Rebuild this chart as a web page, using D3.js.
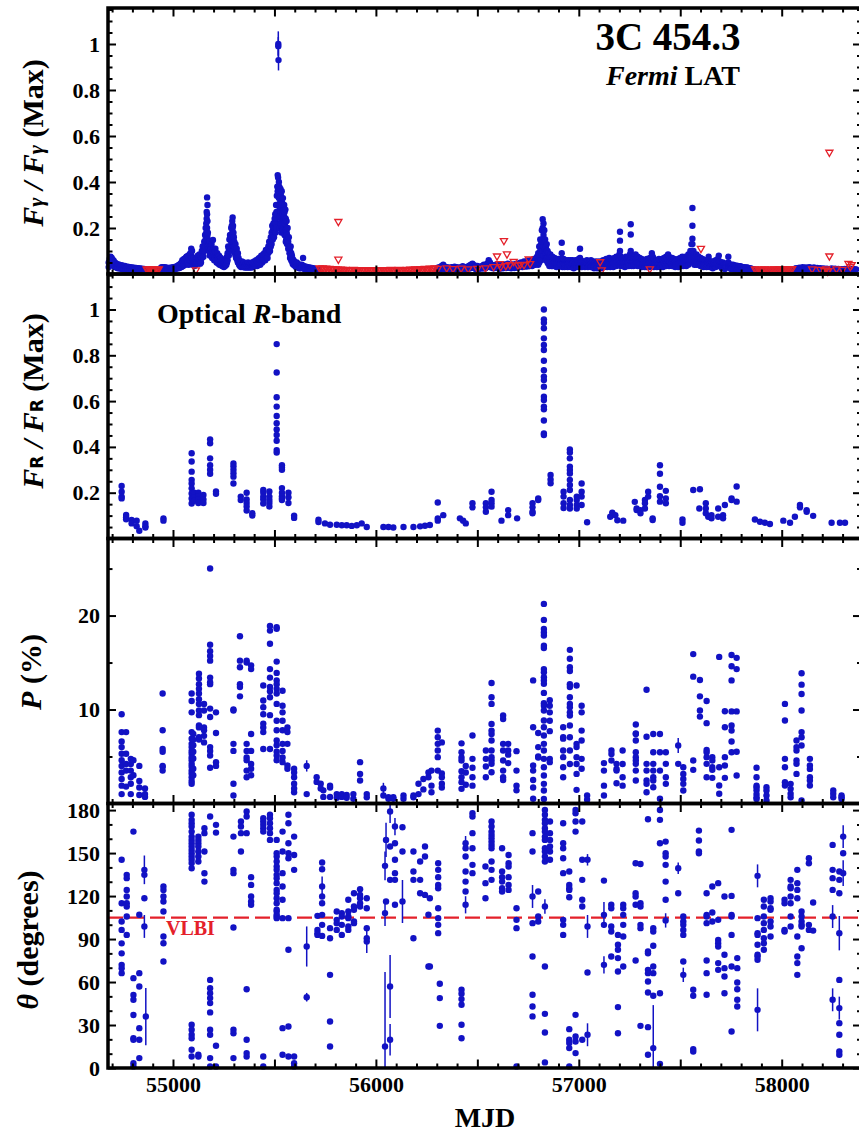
<!DOCTYPE html>
<html>
<head>
<meta charset="utf-8">
<script src="https://cdn.jsdelivr.net/npm/d3@7"></script>
<style>
  body { margin: 0; background: #fff; }
  svg text { font-family: "Liberation Serif", "Times New Roman", serif; font-weight: bold; }
</style>
</head>
<body>
<svg id="chart" width="859" height="1132"></svg>
<script>
// ---- data (MJD, values) ----
// gamma-ray detections, grouped by date: [mjd, [flux / max, ...]]
const gammaDet = [
  [54683,[.05,.03]],[54688,[.065,.04]],[54693,[.075,.05]],[54698,[.07,.045]],[54703,[.062,.04]],[54708,[.058,.035]],
  [54713,[.05,.03]],[54718,[.047,.03]],[54723,[.043,.028]],[54728,[.04,.025]],[54733,[.042]],[54738,[.037,.024]],
  [54743,[.035]],[54748,[.038,.022]],[54753,[.034]],[54758,[.032,.02]],[54763,[.035]],[54768,[.031,.02]],[54773,[.03]],
  [54778,[.032,.02]],[54783,[.029]],[54788,[.03,.019]],[54793,[.027]],[54798,[.028,.018]],[54803,[.026]],[54808,[.027,.018]],
  [54813,[.025]],[54818,[.026,.017]],[54823,[.024]],[54828,[.025,.017]],[54833,[.023]],[54838,[.024,.016]],[54843,[.022]],
  [54848,[.023]],[54853,[.021]],[54858,[.022]],[54863,[.02]],
  [54937,[.022]],[54942,[.028,.018]],[54947,[.03]],[54952,[.027,.02]],[54957,[.03]],[54962,[.028,.02]],[54967,[.026]],
  [54972,[.027,.019]],[54977,[.024]],[54982,[.026,.018]],[54987,[.025]],[54992,[.028,.02]],[54997,[.026]],[55002,[.03,.02]],
  [55007,[.028]],[55012,[.032,.022]],[55017,[.03]],[55022,[.035,.024]],[55027,[.038]],[55032,[.04,.026]],[55037,[.045]],
  [55042,[.05,.03]],[55046,[.04,.06]],[55050,[.055,.035]],[55054,[.065,.04]],[55058,[.06,.045]],[55062,[.07,.04]],
  [55066,[.075,.05]],[55070,[.065,.045]],[55074,[.08,.05]],[55078,[.07,.04]],[55082,[.085,.06]],[55086,[.09,.06]],
  [55090,[.11,.08,.06]],[55094,[.1,.07]],[55098,[.06,.04]],[55102,[.07,.05]],[55106,[.05,.035]],[55110,[.06,.04]],
  [55114,[.045]],[55118,[.07,.05]],[55122,[.08,.055]],[55126,[.065,.045]],[55130,[.085,.06]],[55134,[.06,.045]],
  [55138,[.075,.05]],[55142,[.1,.07]],[55146,[.12,.08]],[55150,[.1,.075]],[55154,[.14,.1]],[55158,[.17,.12]],
  [55161,[.2,.15]],[55164,[.22,.18]],[55166,[.27,.24]],[55168,[.333,.26,.2]],[55170,[.3,.23,.17]],[55172,[.18,.15,.12]],
  [55175,[.14,.11]],[55178,[.13,.1]],[55181,[.14,.1,.08]],[55184,[.12,.09]],[55187,[.11,.08]],[55190,[.13,.09]],
  [55193,[.1,.07]],[55197,[.148,.09]],[55200,[.11,.08]],[55203,[.09,.06]],[55206,[.1,.07]],[55209,[.11,.08]],
  [55212,[.09,.06]],[55215,[.08,.05]],[55218,[.09,.06]],[55221,[.08,.05]],[55224,[.07,.045]],[55227,[.08,.05]],
  [55230,[.065,.04]],[55233,[.06,.04]],[55236,[.07,.045]],[55239,[.06,.04]],[55242,[.05,.035]],[55245,[.06,.04]],
  [55248,[.05,.035]],[55251,[.045,.03]],[55254,[.055,.035]],[55257,[.05,.035]],[55260,[.065,.04]],[55263,[.06,.04]],
  [55266,[.075,.05]],[55269,[.09,.06]],[55272,[.12,.08]],[55275,[.11,.08]],[55278,[.15,.1]],[55281,[.17,.12]],
  [55284,[.16,.11]],[55287,[.2,.14]],[55290,[.21,.16]],[55292,[.23,.18,.13]],[55294,[.246,.2,.15]],[55296,[.21,.17,.12]],
  [55298,[.18,.14,.1]],[55300,[.16,.12]],[55302,[.14,.1]],[55305,[.12,.09]],[55308,[.13,.08]],[55311,[.1,.07]],
  [55314,[.11,.07]],[55317,[.08,.06]],[55320,[.09,.05]],[55323,[.07,.05]],[55326,[.06,.04]],[55330,[.055,.035]],
  [55335,[.05,.03]],[55340,[.055,.035]],[55345,[.045,.03]],[55350,[.05,.03]],[55355,[.04,.028]],[55360,[.045,.03]],
  [55365,[.04,.028]],[55370,[.05,.03]],[55375,[.04,.028]],[55380,[.045,.03]],[55385,[.04,.028]],[55390,[.05,.03]],
  [55395,[.045,.03]],[55400,[.055,.035]],[55405,[.05,.035]],[55410,[.06,.04]],[55415,[.055,.035]],[55420,[.065,.04]],
  [55425,[.07,.045]],[55430,[.06,.04]],[55435,[.08,.05]],[55440,[.07,.05]],[55445,[.085,.06]],[55450,[.09,.06]],
  [55455,[.08,.06]],[55458,[.105]],[55462,[.1,.07]],[55466,[.09,.07]],[55470,[.12,.09]],[55474,[.14,.1]],
  [55478,[.13,.1]],[55482,[.16,.12]],[55486,[.18,.13]],[55489,[.21,.16]],[55492,[.19,.15]],[55495,[.22,.17]],
  [55498,[.2,.16]],[55501,[.24,.19]],[55504,[.26,.2]],[55506,[.22,.18]],[55508,[.3,.24]],[55510,[.27,.2]],
  [55512,[.34,.26]],[55514,[.38,.3]],[55516,[.43,.36]],[55518,[.42,.35]],[55522,[.4,.33]],[55524,[.38,.3,.25]],
  [55526,[.36,.28,.2]],[55528,[.31,.25]],[55530,[.37,.3,.22]],[55532,[.34,.27]],[55534,[.29,.23,.18]],[55536,[.36,.3]],
  [55538,[.31,.25,.2]],[55540,[.27,.22]],[55542,[.33,.26,.19]],[55544,[.28,.23]],[55546,[.24,.18]],[55548,[.3,.25]],
  [55550,[.27,.22,.17]],[55552,[.22,.17]],[55554,[.28,.23]],[55556,[.24,.19,.14]],[55558,[.19,.15]],[55560,[.23,.18]],
  [55562,[.17,.13]],[55565,[.2,.15]],[55568,[.14,.11]],[55571,[.16,.12]],[55574,[.12,.09]],[55577,[.1,.07]],
  [55580,[.12,.08]],[55583,[.09,.06]],[55586,[.08,.055]],[55590,[.065,.045]],[55594,[.06,.04]],[55598,[.055,.04]],
  [55602,[.05,.035]],[55606,[.045,.03]],[55610,[.05,.035]],[55614,[.045,.03]],[55618,[.04,.028]],[55622,[.035,.025]],
  [55626,[.04,.028]],[55630,[.035,.025]],[55635,[.04,.028]],[55641,[.07]],[55645,[.035,.025]],[55650,[.03,.02]],
  [55656,[.032,.022]],[55662,[.028,.02]],[55668,[.03,.02]],[55674,[.025,.018]],[55680,[.027,.018]],[55686,[.024]],
  [55692,[.025]],[55698,[.022]],[55704,[.022]],[55710,[.02]],[55716,[.02]],
  [56300,[.025,.018]],[56308,[.028,.02]],[56316,[.03,.02]],[56324,[.035,.022]],[56332,[.04,.025]],[56340,[.032,.022]],
  [56348,[.03,.02]],[56356,[.028]],[56364,[.025]],[56372,[.03,.02]],[56380,[.028]],[56388,[.032,.022]],[56396,[.03]],
  [56404,[.028,.02]],[56412,[.026]],[56420,[.03,.02]],[56428,[.034,.024]],[56436,[.03]],[56444,[.028,.02]],[56452,[.032]],
  [56460,[.036,.024]],[56468,[.04,.026]],[56476,[.045,.03]],[56484,[.038,.026]],[56492,[.032,.022]],[56500,[.035,.024]],
  [56508,[.03,.022]],[56516,[.032]],[56524,[.035,.024]],[56532,[.04,.026]],[56540,[.038,.025]],[56548,[.045,.03]],
  [56556,[.06,.04]],[56562,[.05,.03]],[56570,[.04,.028]],[56578,[.035,.025]],[56586,[.038,.026]],[56594,[.042,.028]],
  [56602,[.036,.025]],[56610,[.033,.023]],[56618,[.04,.027]],[56626,[.036,.025]],[56634,[.042,.028]],[56642,[.038,.026]],
  [56650,[.045,.03]],[56658,[.04,.027]],[56666,[.036,.025]],[56674,[.042,.028]],[56682,[.038,.026]],[56690,[.044,.03]],
  [56698,[.04,.027]],[56706,[.047,.03]],[56714,[.05,.032]],[56722,[.045,.03]],[56730,[.055,.035]],[56738,[.05,.032]],
  [56746,[.058,.036]],[56754,[.052,.034]],[56762,[.06,.038]],[56770,[.055,.035]],[56778,[.065,.04]],[56786,[.06,.04]],
  [56794,[.075,.05]],[56800,[.09,.06,.04]],[56805,[.12,.08,.05]],[56810,[.15,.1,.06]],[56814,[.13,.09,.06]],
  [56818,[.19,.14,.09]],[56822,[.238,.2,.15,.1]],[56826,[.22,.17,.12,.08]],[56830,[.19,.14,.1]],[56834,[.15,.11,.07]],
  [56838,[.12,.09,.06]],[56842,[.13,.1,.07]],[56846,[.1,.07,.05]],
  [56850,[.09,.065,.045]],[56855,[.075,.05,.035]],[56860,[.085,.06,.04]],[56865,[.07,.05,.035]],[56870,[.075,.05,.035]],
  [56875,[.065,.045]],[56880,[.07,.05,.035]],[56885,[.06,.045]],[56890,[.065,.045,.03]],[56895,[.06,.045]],
  [56900,[.065,.045,.03]],[56905,[.055,.04]],[56910,[.065,.045]],[56916,[.136,.09,.06]],[56920,[.06,.045,.03]],
  [56925,[.065,.045]],[56930,[.06,.045,.03]],[56935,[.055,.04]],[56940,[.06,.045]],[56945,[.055,.04,.03]],
  [56950,[.06,.045]],[56955,[.05,.035]],[56960,[.06,.045,.03]],[56965,[.055,.04]],[56970,[.06,.045]],
  [56975,[.05,.035,.025]],[56980,[.055,.04]],[56985,[.06,.045]],[56990,[.055,.04,.03]],[56995,[.06,.045]],
  [57000,[.065,.045,.03]],[57006,[.11,.07,.045]],[57010,[.06,.045]],[57015,[.055,.04,.03]],[57020,[.05,.035]],
  [57025,[.055,.04]],[57030,[.05,.04,.03]],[57035,[.05,.035]],[57040,[.06,.045]],[57045,[.055,.04,.03]],
  [57050,[.05,.035]],[57055,[.055,.04]],[57060,[.06,.045,.03]],[57065,[.05,.035]],[57070,[.055,.04]],
  [57075,[.045,.035,.025]],[57080,[.05,.035]],[57085,[.055,.04]],[57090,[.045,.035,.025]],[57095,[.05,.035]],
  [57100,[.055,.04]],[57105,[.045,.035]],[57110,[.05,.035,.025]],[57115,[.055,.04]],[57120,[.06,.045]],
  [57125,[.055,.04,.03]],[57130,[.06,.045]],[57135,[.065,.045]],[57140,[.055,.04,.03]],[57145,[.06,.045]],
  [57150,[.07,.05]],[57155,[.06,.045,.03]],[57160,[.065,.045]],[57165,[.055,.04]],[57170,[.06,.045,.03]],
  [57175,[.07,.05]],[57180,[.065,.045]],[57185,[.075,.05,.035]],[57190,[.07,.05]],[57195,[.075,.05]],
  [57200,[.085,.06,.04]],[57203,[.184,.145,.1]],[57207,[.075,.05,.035]],[57212,[.065,.045]],[57217,[.07,.05,.035]],
  [57222,[.06,.045]],[57227,[.065,.045,.03]],[57232,[.075,.05]],[57237,[.065,.045,.035]],[57242,[.07,.05]],
  [57247,[.075,.05,.035]],[57252,[.085,.06]],[57256,[.216,.172,.1,.07]],[57260,[.075,.05,.035]],[57265,[.08,.055]],
  [57270,[.07,.05,.035]],[57275,[.075,.05]],[57280,[.085,.06,.04]],[57285,[.07,.05]],[57290,[.075,.05,.035]],
  [57295,[.065,.045]],[57300,[.07,.05,.035]],[57305,[.06,.045]],[57310,[.065,.045,.03]],[57315,[.055,.04]],
  [57320,[.06,.045]],[57325,[.055,.04,.03]],[57330,[.06,.045]],[57335,[.065,.045,.03]],[57340,[.055,.04]],
  [57345,[.06,.045]],[57350,[.07,.05,.03]],[57355,[.065,.045]],[57360,[.09,.06,.04]],[57365,[.075,.05]],
  [57370,[.065,.045,.03]],[57375,[.06,.045]],[57380,[.055,.04]],[57385,[.06,.045,.03]],[57390,[.055,.04]],
  [57395,[.065,.045]],[57400,[.06,.045,.03]],[57405,[.055,.04]],[57410,[.065,.045]],[57415,[.06,.045,.03]],
  [57420,[.07,.05]],[57425,[.065,.045]],[57430,[.075,.05,.035]],[57435,[.07,.05]],[57440,[.085,.06]],
  [57445,[.075,.05,.035]],[57450,[.07,.05]],[57455,[.065,.045]],[57460,[.07,.05,.035]],[57465,[.06,.045]],
  [57470,[.065,.045]],[57475,[.055,.04,.03]],[57480,[.06,.045]],[57485,[.055,.04]],[57490,[.065,.045,.03]],
  [57495,[.06,.045]],[57500,[.07,.05]],[57505,[.065,.045,.035]],[57510,[.075,.05]],[57515,[.07,.05,.035]],
  [57520,[.065,.045]],[57525,[.075,.05]],[57530,[.07,.05,.035]],[57535,[.075,.055]],[57540,[.085,.06,.04]],
  [57545,[.075,.055]],[57550,[.1,.075,.05]],[57555,[.13,.09,.06]],[57560,[.287,.21,.153,.13,.1]],
  [57565,[.1,.075,.05]],[57570,[.085,.06,.04]],[57575,[.075,.055]],[57580,[.085,.06,.04]],[57585,[.07,.05]],
  [57590,[.075,.055,.04]],[57595,[.065,.045]],[57600,[.07,.05,.035]],[57605,[.06,.045]],[57610,[.065,.045]],
  [57615,[.055,.04,.03]],[57620,[.06,.045]],[57625,[.055,.04]],[57630,[.06,.045,.03]],[57635,[.055,.04]],
  [57640,[.075,.05]],[57645,[.055,.04,.03]],[57650,[.05,.035]],[57655,[.055,.04]],[57660,[.05,.035,.025]],
  [57665,[.055,.04]],[57670,[.05,.035]],[57675,[.06,.04,.03]],[57680,[.055,.04]],[57685,[.065,.045]],
  [57690,[.08,.055,.035]],[57695,[.055,.04]],[57700,[.05,.035]],[57705,[.048,.035,.025]],[57710,[.05,.035]],
  [57715,[.045,.032]],[57720,[.042,.03,.022]],[57725,[.045,.032]],[57730,[.042,.03]],[57737,[.075,.05,.03]],
  [57740,[.042,.03]],[57745,[.04,.028]],[57750,[.04,.03,.022]],[57755,[.038,.027]],[57760,[.04,.03]],
  [57765,[.037,.027,.02]],[57770,[.036,.026]],[57775,[.035,.025]],[57780,[.036,.026,.02]],[57785,[.034,.024]],
  [57790,[.033,.023]],[57795,[.034,.024,.018]],[57800,[.032,.022]],[57805,[.031,.022]],[57810,[.03,.021,.017]],
  [57815,[.029,.02]],[57820,[.028,.02]],[57825,[.027,.019]],[57830,[.028,.019]],[57835,[.026,.018]],
  [57840,[.025,.018]],[57845,[.024,.017]],[57850,[.023,.016]],[57855,[.022,.016]],[57860,[.021,.015]],
  [57866,[.02,.014]],[57872,[.018,.013]],[57880,[.016]],[57890,[.015]],
  [57905,[.014]],[57915,[.012]],[57925,[.015]],[57935,[.013]],[57945,[.014]],[57955,[.012]],[57965,[.015]],
  [57975,[.013]],[57985,[.014]],[57995,[.016]],[58005,[.013]],[58015,[.015]],[58025,[.017]],[58035,[.014]],
  [58045,[.016]],[58055,[.018]],[58063,[.022,.015]],[58071,[.025,.017]],[58079,[.022]],[58087,[.027,.018]],
  [58095,[.024]],[58103,[.03,.02]],[58111,[.026]],[58119,[.028,.018]],[58127,[.025]],[58135,[.03,.02]],
  [58143,[.027]],[58151,[.025,.017]],[58159,[.028]],[58167,[.024,.016]],[58175,[.026]],[58183,[.023,.016]],
  [58191,[.025]],[58199,[.022,.015]],[58207,[.024]],[58215,[.021,.015]],[58223,[.023]],[58231,[.02,.014]],
  [58239,[.022]],[58247,[.024,.016]],[58255,[.021]],[58263,[.023,.015]],[58271,[.02]],[58279,[.022,.015]],
  [58287,[.019]],[58295,[.021,.014]],[58303,[.02]],[58311,[.022,.015]],[58319,[.02]],[58327,[.023,.015]],
  [58335,[.02]],[58343,[.022]],[58351,[.019]],[58359,[.021]],[58367,[.02]]
];
// the giant 2010 flare points with their error bars: [mjd, flux, err]
const gammaPeak = [[55519, 1.0, 0.055], [55519, 0.99, 0.04], [55520, 0.93, 0.045]];
// gamma-ray upper limits: [mjd, flux]
const gammaUL = [
  [54870,.022],[54876,.02],[54882,.022],[54888,.019],[54894,.021],[54900,.02],[54906,.022],[54912,.019],
  [54918,.021],[54924,.02],[54930,.022],[55113,.018],
  [55722,.026],[55730,.024],[55738,.026],[55746,.023],[55754,.025],[55762,.022],[55770,.024],[55778,.021],
  [55786,.023],[55794,.02],[55802,.022],[55810,.021],[55818,.019],[55826,.021],[55834,.02],[55842,.018],
  [55850,.02],[55858,.019],[55866,.017],[55874,.019],[55882,.018],[55890,.02],[55898,.018],[55906,.017],
  [55914,.019],[55922,.018],[55930,.016],[55938,.018],[55946,.017],[55954,.019],[55962,.017],[55970,.016],
  [55978,.018],[55986,.017],[55994,.019],[56002,.018],[56010,.016],[56018,.018],[56026,.017],[56034,.019],
  [56042,.018],[56050,.017],[56058,.019],[56066,.018],[56074,.02],[56082,.018],[56090,.017],[56098,.019],
  [56106,.018],[56114,.02],[56122,.019],[56130,.017],[56138,.019],[56146,.018],[56154,.02],[56162,.019],
  [56170,.021],[56178,.019],[56186,.02],[56194,.022],[56202,.02],[56210,.021],[56218,.023],[56226,.021],
  [56234,.022],[56242,.024],[56250,.022],[56258,.023],[56266,.025],[56274,.023],[56282,.024],[56290,.026],
  [55815,.228],[55815,.064],
  [56305,.024],[56349,.026],[56380,.023],[56420,.025],[56455,.022],[56500,.024],[56540,.026],[56580,.032],
  [56597,.078],[56610,.045],[56615,.032],[56631,.145],[56640,.036],[56646,.087],[56660,.04],[56679,.054],
  [56700,.038],[56712,.042],[56730,.04],[56753,.065],[56760,.045],[57105,.053],[57113,.018],[57350,.022],
  [57602,.111],
  [57868,.022],[57876,.02],[57884,.021],[57892,.019],[57900,.021],[57908,.02],[57916,.022],[57924,.02],
  [57932,.021],[57940,.019],[57948,.021],[57956,.02],[57964,.022],[57972,.021],[57980,.02],[57988,.022],
  [57996,.021],[58004,.02],[58012,.022],[58020,.021],[58028,.023],[58036,.022],[58044,.021],[58052,.023],
  [58150,.022],[58190,.02],[58210,.016],[58220,.022],[58225,.012],[58230,.014],[58235,.529],[58235,.078],
  [58270,.022],[58300,.02],[58329,.046],[58338,.032],[58345,.04]
];

// optical R-band flux / max: [mjd, [values]]
const opticalR = [
  [54747,[.229,.204,.183,.175]],[54769,[.103,.093,.084]],[54796,[.081,.066]],[54821,[.078,.054]],[54834,[.034]],
  [54864,[.066,.054,.048]],[54953,[.088,.078]],[55092,[.372,.336,.292,.256,.24,.219,.197,.175,.153]],
  [55104,[.2,.18,.165]],[55125,[.2,.185,.17,.155]],[55150,[.19,.17,.155]],[55183,[.433,.416,.35,.32,.3,.283]],
  [55212,[.205,.195]],[55298,[.328,.315,.3,.285,.27,.24]],[55334,[.183,.168]],[55363,[.2,.17,.155,.14,.122]],
  [55391,[.11,.1]],[55445,[.212,.2,.183,.171,.153]],[55475,[.205,.183,.168,.155,.14]],
  [55511,[.849,.725,.617,.576,.535,.503,.476,.452,.427,.386,.375]],[55537,[.32,.31,.3,.22,.2,.185,.175,.168]],
  [55569,[.2,.18,.155]],[55597,[.1,.09]],[55717,[.082,.072]],[55749,[.066]],[55774,[.06]],[55807,[.06]],
  [55832,[.058]],[55856,[.058]],[55881,[.055]],[55906,[.058]],[55930,[.066]],[55955,[.05]],[56037,[.05]],
  [56062,[.05]],[56086,[.048]],[56136,[.05]],[56185,[.05]],[56218,[.053]],[56242,[.056]],[56266,[.059]],
  [56305,[.157,.088,.078]],[56332,[.102]],[56414,[.088]],[56430,[.078]],[56443,[.066]],[56476,[.154,.136]],
  [56542,[.154,.136,.117]],[56570,[.204,.168,.154,.139]],[56619,[.078]],[56652,[.124,.102]],[56696,[.088]],
  [56772,[.154,.136,.117,.11]],[56800,[.175,.168]],
  [56828,[1.0,.957,.942,.918,.874,.845,.823,.776,.735,.707,.692,.663,.619,.605,.576,.564,.515,.459,.452]],
  [56861,[.277,.258,.241]],[56925,[.204,.183,.154,.133]],
  [56956,[.389,.375,.35,.314,.299,.284,.256,.234,.212,.168,.146,.131]],[56990,[.183,.168,.146,.131]],
  [57014,[.24,.204,.183,.146]],[57041,[.071]],[57155,[.095]],[57165,[.113]],[57180,[.102]],[57190,[.08]],
  [57219,[.078]],[57276,[.16]],[57285,[.131,.124]],[57304,[.124,.11]],[57326,[.168,.154,.131]],[57342,[.204,.183]],
  [57364,[.088,.081]],[57400,[.32,.283,.226,.185,.161]],[57429,[.208,.175,.154]],[57511,[.083,.069]],
  [57564,[.212]],[57597,[.215]],[57594,[.131]],[57626,[.154,.131,.11]],[57638,[.095]],[57654,[.088,.102]],
  [57687,[.131,.095]],[57711,[.102,.088]],[57720,[.146]],[57753,[.175,.168]],[57778,[.227,.161]],
  [57868,[.083]],[57893,[.073]],[57917,[.069]],[57942,[.063]],[58008,[.078]],[58041,[.069]],[58065,[.095]],
  [58090,[.146,.136]],[58123,[.124,.117]],[58155,[.099]],[58246,[.069]],[58287,[.069]],[58312,[.069]]
];

// optical polarization degree P (%): [mjd, [values]]
const polDegree = [
  [54747,[9.5,7.6,6.6,6.0,5.3,4.6,4.0,3.3,2.6,1.9,1.0]],[54769,[7.6,5.3,4.2,3.5,1.8]],[54792,[4.75,4.2,3.5,2.8,2.1,1.0]],
  [54805,[4.6,3.0]],[54834,[4.0,2.4,1.7,0.9]],[54862,[1.6,1.0,0.7]],[54949,[11.7,7.8,5.8,5.5,4.0,3.9,3.5]],
  [55092,[11.7,10.9,9.7,7.6,6.9,6.35,6.0,5.6,5.3,4.9,4.6,4.2,3.9,3.5,3.2,2.8,2.4,2.1]],
  [55100,[7.4,6.8,6.2,5.5,4.8,3.7,3.0]],[55128,[13.8,13.3,12.7,12.2,11.7,11.1,10.6,9.9,9.4,8.3,8.1,7.05,6.8]],
  [55153,[10.6,9.9,8.1,7.8,7.2,6.5]],[55183,[25.0,16.9,16.2,15.7,15.2,13.4,12.9,12.7,10.1,9.2,6.0,5.6,5.1,3.8]],
  [55212,[9.7,7.5,4.4,4.0]],[55298,[10.0,9.9,6.35,5.6,2.1,0.85]],[55330,[17.8,15.2,14.5,12.7,12.4,11.4]],
  [55363,[15.2,15.0,6.35,5.6,4.9,4.6,3.5,2.8]],[55385,[14.7,14.3,7.4,5.6,4.2,3.7,3.0]],
  [55445,[12.55,10.96,10.25,9.5,8.5,8.1,7.6,5.8]],[55478,[18.9,18.4,17.0,14.3,13.4,12.4,11.95,11.3,9.4,5.8]],
  [55511,[18.75,18.6,15.1,13.9,13.1,12.7,12.2,11.7,10.6,8.8,7.8,6.7,6.2,5.5,5.1,4.6]],
  [55540,[12.0,10.4,9.7,8.8,7.8,6.35,5.6,4.9,4.4]],[55564,[8.1,7.6,6.35,4.04,3.7]],[55597,[3.7,3.3,2.8,2.1,1.6,1.2]],
  [55659,[4.0,1.0]],[55708,[2.3,2.8]],[55728,[2.1,1.6]],[55741,[1.4,0.7]],[55774,[1.9,1.7,0.7]],[55807,[1.0,0.6]],
  [55832,[1.0,0.7]],[55856,[0.9,0.6]],[55889,[1.0,0.5]],[55922,[4.4,3.15,2.44]],[55955,[1.0,0.67]],
  [56037,[1.6,0.85]],[56062,[0.67,0.5]],[56086,[0.67,0.5]],[56136,[0.85,0.5]],[56185,[0.67,0.85]],[56210,[2.1,1.0]],
  [56234,[2.6,1.5]],[56259,[3.3,2.8]],[56274,[3.5,1.9,1.2]],[56305,[7.76,7.05,6.35,5.64,4.93,3.5]],
  [56325,[6.5,3.2,2.8,2.1,1.7]],[56422,[6.4,5.46,4.9,4.57,3.44,2.8,2.27,1.56]],[56443,[4.0,3.3,2.0]],
  [56476,[7.23,4.75,3.8,2.8,1.9]],[56542,[5.64,4.75,3.93,2.8]],
  [56570,[12.83,11.3,10.6,8.47,7.76,7.4,6.7,5.64,4.93,4.57,4.22,3.33]],[56627,[9.36,9.0,6.35,5.64,4.57,3.5,2.8,2.5]],
  [56652,[6.35,5.64,5.2,4.3]],[56693,[5.57,3.5,1.9,1.4]],[56775,[13.1,8.12,4.04,3.5,2.5,1.7,0.5]],
  [56800,[7.5,6.0,5.0,4.9]],
  [56828,[21.24,19.54,18.58,18.2,17.87,16.8,16.55,14.3,13.97,13.44,13.1,12.73,11.77,10.67,10.4,9.9,8.83,8.12,7.23,6.35,5.64,4.75,3.86,2.98,2.09,1.38,0.49]],
  [56857,[11.0,10.4,9.7,8.8,7.7,4.75,4.4]],[56923,[8.12,7.05,6.9,5.64,4.93,3.86,2.8]],
  [56956,[16.35,15.4,14.5,14.1,12.7,12.4,11.3,10.6,10.25,9.7,9.36,8.3,7.05,5.64,4.2]],
  [56989,[12.55,6.35,6.0,4.93,4.2,3.15,1.45]],[57014,[10.4,9.7,7.76,6.7,4.75,3.7]],[57041,[0.85,0.4]],
  [57124,[4.3,3.5,1.9,0.85]],[57161,[5.64,5.28,4.57]],[57186,[4.22,3.68,3.5,2.15]],[57216,[5.64,4.2,2.8,1.9]],
  [57281,[8.4,7.45,7.4,6.7,5.46,4.93,4.57,4.22,3.5,2.44]],[57334,[12.1,7.1,4.22,3.5,2.44,2.09,1.2]],
  [57367,[7.4,5.46,4.22,3.5,2.8,2.44,1.73]],[57400,[7.4,5.46,3.5,0.5]],[57429,[5.46,4.22,2.8,2.09]],
  [57490,[6.17,4.22]],[57515,[3.86,3.15,2.62,2.09,1.38]],[57564,[15.9,13.5,4.57,3.58]],[57597,[13.15,11.4,9.9,9.25]],
  [57630,[10.9,8.55,5.7,5.46,4.93,4.22,2.8]],[57658,[4.93,4.57,3.86,3.58,2.73]],[57692,[15.6,3.86,1.91,1.03]],
  [57720,[9.82,8.12,4.93,4.04,2.73]],[57753,[15.8,14.6,13.1,9.8,8.3,7.76,6.6,5.46]],[57778,[15.5,14.3,9.8,5.5,2.98]],
  [57876,[3.8,2.8,1.9,1.7,1.4,1.0,0.67,0.49]],[57925,[1.73,1.38,0.85,0.32]],[58016,[10.6,8.83,4.75,3.86,2.27,1.91]],
  [58044,[2.09,1.56,1.03,0.67]],[58073,[6.7,6.0,5.64,4.57,4.22,3.15]],
  [58098,[13.86,12.65,11.65,9.9,7.6,7.05,6.17,0.32]],[58139,[4.75,4.04,3.68,2.8,2.44,1.91]],
  [58254,[1.38,1.03,0.67]],[58295,[0.67,0.49,0.85]]
];
const polDegreeErr = [[55659, 4.0, 0.6], [56037, 1.6, 0.6], [57490, 6.17, 0.8]];

// polarization angle theta (degrees): [mjd, [values]]
const polAngle = [
  [54747,[145.3,115,102.2,96.4,87,80,72,69.7,66.2]],[54772,[134.8,132.5,124.3,119.7,115,112.7,105.7,92.9]],
  [54805,[165,62.7,51,47.6,37,20.8,19.7,3.4,1.1]],[54834,[107,66.2,56.9,27.8,19.7,6.9]],
  [54859,[138.3,134.8,118.5,98.8]],[54866,[35.9]],[54953,[126.7,124.3,119.7,116.2,109.2,91.8,87.1,74.3]],
  [55092,[176.7,173.2,170.8,168.5,165,161.5,159.2,156.9,154.6,152.2,149.9,147.6,145.3,143,139.4,30.2,26.7,23.2,20.8,12.7,8]],
  [55125,[161.5,159.2,156.9,154.6,151.1,147.6,144.1,8,9.2]],[55155,[167.4,163.9,151.1,135.9,130.1]],
  [55183,[175.5,61.5,55.7,52.2,48.8,45.3,38.8,26.7,23.2,6.9,1.1]],[55212,[169.7,164.3,15.5,1.1]],
  [55298,[161.5,138.3,136,98.1,26.7,24.3,6.9]],[55335,[172,168.5,163.9,151.1]],
  [55363,[179,175.5,163.9,55,19.7,10.4,8]],[55385,[133.2,127.8,119.7,116.2,113.9]],
  [55445,[174.3,172,169.7,167.4,165,8,1.1]],[55478,[176.7,174.3,170.8,167.4,163.9,159.2]],
  [55511,[159.2,149.9,147.6,144.1,140.6,138.3,134.8,132.5,129,124.3,122,118.5,115,110.4,109.2,106.9,105.7,104.6]],
  [55540,[165,151.1,136,126.7,117.4,104.6,27.8,9.2]],[55569,[176.7,170.8,156.9,149.9,146.4,104.6,82.5,29,8]],
  [55597,[161.5,148.7,138.3,8,3.4,1.1]],[55659,[84.8,49.4]],[55712,[106.2,96.4,94.1,92.9]],
  [55735,[143.4,138.7,126.7,119.7,115,106.9,99.9,92.2]],[55774,[97.6,90.6,65,32.5,15]],
  [55807,[109.2,103.4,101.1,96.4]],[55832,[108.1,105.7,99.9,92.9]],[55864,[117.4,109.2,104.6,98.8,96.4,105.7]],
  [55892,[122,112.7,110.4,102.2,101.1]],[55922,[124.8,120.8,118.5,115,112.7]],[55955,[118.5,111.5,97.6,90.6,88.3]],
  [56045,[15,141.1,108.1]],[56050,[159.2,116.2]],[56070,[179,154.6,131.3,56.9,19.7]],
  [56094,[168.5,156.9,145.3,136,131.3,113.9]],[56131,[168,151.1,116.2]],[56185,[151.1,137.1,131.3,90.6]],
  [56218,[144.1,131.3,122]],[56242,[154.6,147.6,120.8]],[56259,[107,70.8]],[56266,[118.5,70.8]],
  [56307,[142.9,138.3,133.2,127.8,125.5,111.5,104.6,99.9,94.1]],[56315,[58.8,48.8,29.4]],
  [56422,[54.6,51.8,48.1,44.1,30.2,20.8]],[56442,[156.9,153.4,147.6,137.1,130.1,123.2,113.9]],
  [56476,[177.8,175.5,163.9,153.4,141.8,136]],[56540,[140.6,129,118.5]],
  [56570,[172,168.5,165,162.7,160.4,158,155.7,153.4,144.1,138.3,131.3]],
  [56622,[153.4,137.1,133.2,130.1,125.5,123.2]],[56654,[148.7,142.9,140.6,133.2,127.8,124.3]],
  [56693,[111.5,103.4,97.6,1.1]],[56772,[163.9,151.1,119.7,101.1,77.8,51.1,42.9,36]],[56800,[123.2,105.7,102.2]],
  [56833,[180.1,176.7,173.2,170.8,167.4,165,161.5,159.2,153.4,151.1,147.6,144.1,112.7,70.8,37.8,24.8,3.9]],
  [56858,[172,163.9,159.2,154.6,151.1,145.3]],[56923,[170.8,156.9,153.4,146.4,136,103.4,99.9,92.9]],
  [56953,[137.1,127.8,125.5,124.3,119.2,27.1,19.7,17.4,13.9,1.1]],[56984,[180.1,177.8,172,165,37.1,22,18.5,10.4]],
  [57017,[172,145.3,131.3,117.4,112.7,19.7]],[57043,[145.3,98.8,66.7,23.2]],[57124,[130.8,106.9,99.9,72]],
  [57160,[113.9,111.5,98.8,95.3,77.8]],[57193,[92.9,86,82.5,76.7,67.4,42.5,24.3]],
  [57219,[113.9,111.5,106.9,99.9,91.8,70.8]],[57280,[142.9,122,119.7,113.9,75]],
  [57304,[142.4,115,112.7,99.9,97.6,29.4]],[57341,[173.6,81.3,80.1,68.5,66.2,60.4,52.7,28.5,9.2]],
  [57367,[97.6,95.3,85.3,70.8,66.2,50.4,13.9]],[57400,[180.1,173.2,156.9,52.2,2.9]],
  [57428,[158,149.9,147.6,141.8,130.1,117.4,103]],[57490,[139.4,122]],
  [57515,[105.7,102.2,99.9,96.4,92.9,74.3,65]],[57564,[54.6,50.4,13.2,11.5]],[57592,[165.7,158.8,151.1,149.9]],
  [57630,[122,106.9,105.7,101.1,75,66.2,51.1]],[57658,[126.7,108.5,102.2]],
  [57687,[129,103.4,89.4,87.1,84.8,73.2,68.5]],[57718,[119.7,79,69.7,63.9,52.2]],
  [57753,[166.2,120.1,106.9,105.7,92.9,70.8,25.5]],[57781,[76.7,69.7,59.7,55,47.6,42.9]],
  [57881,[134.1,104.6,94.1,92.9,86,79,77.8,75.5,40.6]],[57912,[117.4,112.7,105.7,101.1,96.4,90.6,87.1,82.5]],
  [57945,[118.5,116.2,111.5,110.4,102.2,98.8,91.8]],[58014,[117.4,115,96.4,95.3]],
  [58044,[131.3,126.7,125.5,119.7,115,105.7,98.8]],[58077,[138.3,129,124.3,118.5,91.8,77.8,73.2,65]],
  [58098,[109.2,105.7,102.2,99.9,98.8,83.6]],[58134,[146.4,142.9,99.9,96.4]],[58155,[115.5,95.9]],
  [58251,[155.7,138.3,132.5,124.3,105.7,47.6]],[58284,[137.1,131.3,122,94.1,61.5,41.8,31.3,23.2,11.5,9.2]],
  [58303,[161.5,149.9,136]]
];
// angle points that carry visible error bars: [mjd, theta, err]
const polAngleErr = [
  [54859,138.3,10],[54859,98.8,8],[54866,35.9,20],[55659,84.8,14],[55659,49.4,3],[55735,126.7,7],[55955,88.3,8],
  [56045,15,52],[56045,141.1,10],[56045,108.1,9],[56050,159.2,12],[56070,179,8],[56070,56.9,22],[56070,19.7,11],
  [56094,168.5,6],[56131,116.2,15],[56442,156.9,5],[56442,113.9,6],[56772,119.7,8],[56833,112.7,5],
  [57043,145.3,4],[57043,98.8,8],[57043,23.2,8],[57124,106.9,9],[57124,72,6],[57367,13.9,30],[57428,103,5],
  [57490,139.4,4],[57515,65,5],[57881,134.1,8],[57881,40.6,15],[58251,105.7,8],[58251,47.6,8],[58284,94.1,12],
  [58284,41.8,8],[58303,161.5,8],[58303,136,9]
];
const vlbiAngle = 105;
const mjdLabels = [55000, 56000, 57000, 58000];

// ---- layout ----
const svg = d3.select("#chart");
const blue = "#1212c4";
const red = "#e4202a";
const X0 = 108, X1 = 861.5;
const x = d3.scaleLinear().domain([54679.7, 58393.3]).range([X0, X1]);

const panels = [
  { top: 8, bottom: 274, max: 1.1565, major: [0.2, 0.4, 0.6, 0.8, 1], minorStep: 0.05 },
  { top: 274, bottom: 538.5, max: 1.155, major: [0.2, 0.4, 0.6, 0.8, 1], minorStep: 0.05 },
  { top: 538.5, bottom: 803.5, max: 28.2, major: [10, 20], minorStep: 5 },
  { top: 803.5, bottom: 1068, max: 184.6, major: [0, 30, 60, 90, 120, 150, 180], minorStep: 10 }
];
panels.forEach(p => {
  p.y = d3.scaleLinear().domain([0, p.max]).range([p.bottom, p.top]);
});

const xMajor = d3.range(55000, 58001, 500);
const xMinor = d3.range(54700, 58400, 100).filter(v => v % 500 !== 0);

function styleAxis(sel) {
  sel.attr("font-family", null).attr("font-size", null);
  sel.select(".domain").remove();
  sel.selectAll(".tick line").attr("stroke", "#000").attr("stroke-width", 2);
  sel.selectAll(".tick text").attr("fill", "#000").style("font-size", "22px");
}

function drawFrame(p, showX) {
  const g = svg.append("g");
  const minor = d3.range(p.minorStep, p.max, p.minorStep)
    .map(v => +v.toFixed(3))
    .filter(v => !p.major.some(m => Math.abs(m - v) < 1e-6));

  g.append("g").attr("transform", `translate(${X0},0)`)
    .call(d3.axisLeft(p.y).tickValues(minor).tickSize(-4.5).tickFormat(""))
    .call(styleAxis);
  g.append("g").attr("transform", `translate(${X0},0)`)
    .call(d3.axisLeft(p.y).tickValues(p.major).tickSize(-8).tickPadding(8).tickFormat(d3.format("~g")))
    .call(styleAxis);
  g.append("g").attr("transform", `translate(${X1},0)`)
    .call(d3.axisRight(p.y).tickValues(minor).tickSize(-4.5).tickFormat(""))
    .call(styleAxis);
  g.append("g").attr("transform", `translate(${X1},0)`)
    .call(d3.axisRight(p.y).tickValues(p.major).tickSize(-8.5).tickFormat(""))
    .call(styleAxis);

  g.append("g").attr("transform", `translate(0,${p.top})`)
    .call(d3.axisTop(x).tickValues(xMinor).tickSize(-4.5).tickFormat(""))
    .call(styleAxis);
  g.append("g").attr("transform", `translate(0,${p.top})`)
    .call(d3.axisTop(x).tickValues(xMajor).tickSize(-8.5).tickFormat(""))
    .call(styleAxis);
  g.append("g").attr("transform", `translate(0,${p.bottom})`)
    .call(d3.axisBottom(x).tickValues(xMinor).tickSize(-4.5).tickFormat(""))
    .call(styleAxis);
  g.append("g").attr("transform", `translate(0,${p.bottom})`)
    .call(d3.axisBottom(x).tickValues(xMajor).tickSize(-8.5).tickFormat(""))
    .call(styleAxis);
  if (showX) {
    g.append("g").attr("transform", `translate(0,${p.bottom})`)
      .call(d3.axisBottom(x).tickValues(mjdLabels).tickSize(0).tickPadding(8.5).tickFormat(d3.format("d")))
      .call(styleAxis);
  }
  g.append("rect")
    .attr("x", X0).attr("y", p.top)
    .attr("width", X1 - X0).attr("height", p.bottom - p.top)
    .attr("fill", "none").attr("stroke", "#000").attr("stroke-width", 3.5);
}

const flat = groups => groups.flatMap(([m, vals]) => vals.map(v => [m, v]));

function dots(g, pts, y, r) {
  g.selectAll(null).data(pts).join("circle")
    .attr("cx", d => x(d[0])).attr("cy", d => y(d[1]))
    .attr("r", r).attr("fill", blue);
}
function errBars(g, pts, y) {
  const [lo, hi] = y.domain();
  g.selectAll(null).data(pts).join("line")
    .attr("x1", d => x(d[0])).attr("x2", d => x(d[0]))
    .attr("y1", d => y(Math.max(lo, d[1] - d[2])))
    .attr("y2", d => y(Math.min(hi, d[1] + d[2])))
    .attr("stroke", blue).attr("stroke-width", 1.5);
}

const R = 3.2;

// panel 1: gamma rays
{
  const p = panels[0];
  const g = svg.append("g");
  errBars(g, gammaPeak, p.y);
  dots(g, flat(gammaDet), p.y, R);
  dots(g, gammaPeak, p.y, R);
  const tri = d3.symbol(d3.symbolTriangle, 22)();
  g.selectAll(null).data(gammaUL).join("path")
    .attr("d", tri)
    .attr("transform", d => `translate(${x(d[0])},${p.y(d[1])}) rotate(180)`)
    .attr("fill", "none").attr("stroke", red).attr("stroke-width", 1.3);
}
// panel 2: optical flux
{
  const p = panels[1];
  dots(svg.append("g"), flat(opticalR), p.y, R);
}
// panel 3: polarization degree
{
  const p = panels[2];
  const g = svg.append("g");
  errBars(g, polDegreeErr, p.y);
  dots(g, flat(polDegree), p.y, R);
}
// panel 4: polarization angle
{
  const p = panels[3];
  const g = svg.append("g");
  g.append("line")
    .attr("x1", X0).attr("x2", X1)
    .attr("y1", p.y(vlbiAngle)).attr("y2", p.y(vlbiAngle))
    .attr("stroke", red).attr("stroke-width", 2.2).attr("stroke-dasharray", "15,6");
  errBars(g, polAngleErr, p.y);
  dots(g, flat(polAngle), p.y, R);
  g.append("text").attr("x", 166).attr("y", 935)
    .attr("fill", red).style("font-size", "20px").text("VLBI");
}

panels.forEach((p, i) => drawFrame(p, i === panels.length - 1));

// ---- texts ----
svg.append("text").attr("x", 668).attr("y", 50).attr("text-anchor", "middle")
  .style("font-size", "39px").text("3C 454.3");
const fermi = svg.append("text").attr("x", 673).attr("y", 85).attr("text-anchor", "middle")
  .style("font-size", "28px");
fermi.append("tspan").attr("font-style", "italic").text("Fermi");
fermi.append("tspan").text(" LAT");

const opt = svg.append("text").attr("x", 157).attr("y", 323).style("font-size", "28px");
opt.append("tspan").text("Optical ");
opt.append("tspan").attr("font-style", "italic").text("R");
opt.append("tspan").text("-band");

function yTitle(tx, cy, parts) {
  const t = svg.append("text")
    .attr("transform", `translate(${tx},${cy}) rotate(-90)`)
    .attr("text-anchor", "middle").style("font-size", "30px");
  parts.forEach(([s, st]) => {
    const ts = t.append("tspan").text(s);
    if (st === "i") ts.attr("font-style", "italic");
    if (st === "g") ts.attr("font-style", "italic").style("font-size", "22px");
    if (st === "r") ts.style("font-family", "'DejaVu Sans', sans-serif").style("font-size", "17px");
  });
}
yTitle(43, 143, [["F", "i"], ["γ", "g"], [" / ", "i"], ["F", "i"], ["γ", "g"], [" (Max)", ""]]);
yTitle(43, 401, [["F", "i"], ["R", "r"], [" / ", "i"], ["F", "i"], ["R", "r"], [" (Max)", ""]]);
yTitle(41, 672, [["P", "i"], ["  (%)", ""]]);
yTitle(38, 940, [["θ", "i"], [" (degrees)", ""]]);

svg.append("text").attr("x", 485).attr("y", 1127).attr("text-anchor", "middle")
  .style("font-size", "28px").text("MJD");
</script>
</body>
</html>
